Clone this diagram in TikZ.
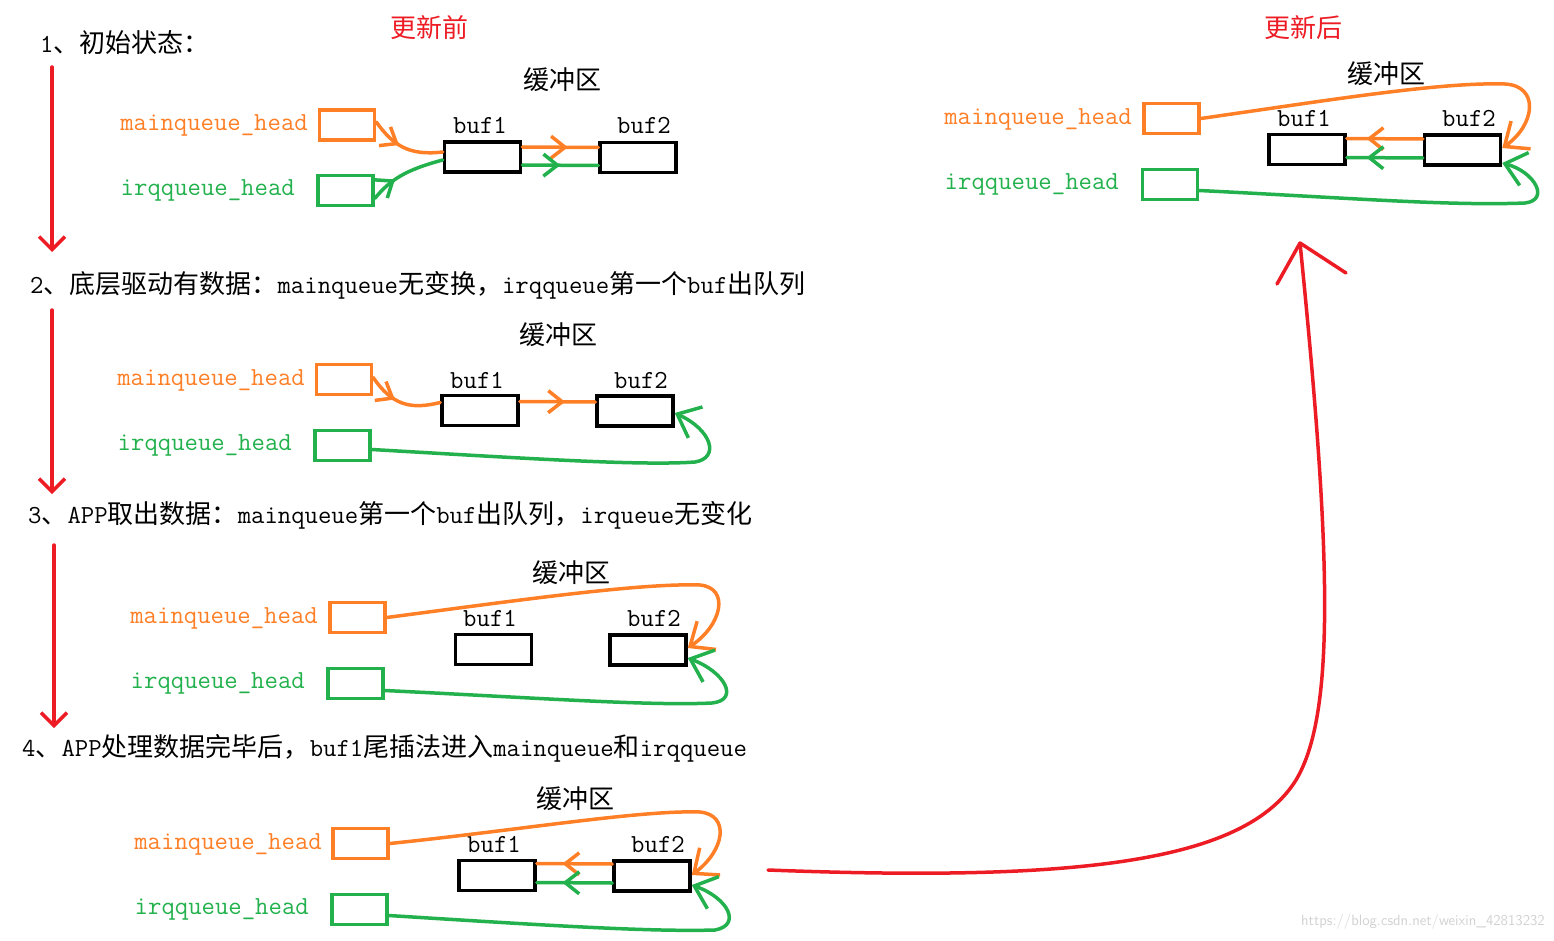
\documentclass[tikz,border=0pt]{standalone}
\usepackage{fontspec}
\newfontfamily\zh{Noto Sans CJK SC}
\usetikzlibrary{arrows.meta,decorations.markings,positioning}
\definecolor{qorange}{HTML}{FF7F27}
\definecolor{qgreen}{HTML}{22B14C}
\definecolor{qred}{HTML}{ED1C24}
\tikzset{
  tipS/.tip={Straight Barb[length=14pt,width=22pt]},
  tipL/.tip={Straight Barb[length=20pt,width=34pt]},
  tipR/.tip={Straight Barb[length=13pt,width=26pt]},
  txt/.style={inner sep=0pt,font=\fontsize{26}{30}\selectfont\ttfamily},
  headbox/.style={draw,line width=3.5pt,minimum width=55pt,minimum height=30pt,inner sep=0pt},
  mbox/.style={headbox,draw=qorange},
  ibox/.style={headbox,draw=qgreen},
  bufbox/.style={draw=black,line width=3.5pt,minimum width=76pt,minimum height=30pt,inner sep=0pt},
  mlabel/.style={txt,anchor=east,text=qorange},
  ilabel/.style={txt,anchor=east,text=qgreen},
  mline/.style={color=qorange,line width=3.5pt,line cap=round},
  iline/.style={color=qgreen,line width=3.5pt,line cap=round},
  redline/.style={color=qred,line width=3.5pt,line cap=round},
  midarrow/.style={postaction={decorate},decoration={markings,mark=at position #1 with {\arrow{tipS}}}}
}

\begin{document}
\begin{tikzpicture}[x=1pt,y=-1pt]
  \useasboundingbox (0,0) rectangle (1554,941);
  %%%%% START %%%%%

  \node[txt,text=qred] (before) at (429,28) {\zh 更新前};
  \node[txt,text=qred] (after) at (1303,28) {\zh 更新后};

  % 1
  \node[txt,anchor=west] (h1) at (40,43) {1{\zh 、初始状态：}};
  \coordinate (r1s) at (52,67);
  \coordinate (r1e) at (52,252);
  \draw[redline,-{tipR}] (r1s) -- (r1e);
  \node[txt] (pool1) at (562,80) {\zh 缓冲区};
  \node[mbox] (mh1) at (347,125) {};
  \node[ibox] (ih1) at (345.5,190.5) {};
  \node[mlabel] (ml1) at (308,125) {mainqueue\_head};
  \node[ilabel] (il1) at (295,190) {irqqueue\_head};
  \node[bufbox] (b11) at (482.5,157) {};
  \node[bufbox] (b12) at (638,157.5) {};
  \node[txt] (bl11) at (480,125) {buf1};
  \node[txt] (bl12) at (644,125) {buf2};
  \draw[mline,midarrow=0.42] ([yshift=3pt]mh1.east) .. controls (393,145) and (408,156) .. ([yshift=5pt]b11.west);
  \draw[iline,midarrow=0.35] ([yshift=-8pt]ih1.east) .. controls (390,180) and (405,170) .. ([yshift=-3pt]b11.west);
  \draw[mline,midarrow=0.6] ([yshift=10pt]b11.east) -- ([yshift=10pt]b12.west);
  \draw[iline,midarrow=0.5] ([yshift=-8pt]b11.east) -- ([yshift=-8pt]b12.west);

  % 2
  \node[txt,anchor=west] (h2) at (30,285) {2{\zh 、底层驱动有数据：}mainqueue{\zh 无变换，}irqqueue{\zh 第一个}buf{\zh 出队列}};
  \coordinate (r2s) at (52,310);
  \coordinate (r2e) at (52,494);
  \draw[redline,-{tipR}] (r2s) -- (r2e);
  \node[txt] (pool2) at (558,335) {\zh 缓冲区};
  \node[mbox] (mh2) at (344,379.5) {};
  \node[ibox] (ih2) at (342.5,445.5) {};
  \node[mlabel] (ml2) at (305,380) {mainqueue\_head};
  \node[ilabel] (il2) at (292,445) {irqqueue\_head};
  \node[bufbox] (b21) at (480,410.5) {};
  \node[bufbox] (b22) at (635,411) {};
  \node[txt] (bl21) at (477,380) {buf1};
  \node[txt] (bl22) at (641,380) {buf2};
  \draw[mline,midarrow=0.4] ([yshift=2pt]mh2.east) .. controls (392,405) and (410,410) .. ([yshift=8pt]b21.west);
  \draw[mline,midarrow=0.6] ([yshift=9pt]b21.east) -- ([yshift=9pt]b22.west);
  \draw[iline,-{tipL}] ([yshift=-4pt]ih2.east) .. controls (520,458) and (640,466) .. (695,462)
    .. controls (720,458) and (712,430) .. ([yshift=-2pt]b22.east);

  % 3
  \node[txt,anchor=west] (h3) at (28,515) {3{\zh 、}APP{\zh 取出数据：}mainqueue{\zh 第一个}buf{\zh 出队列，}irqueue{\zh 无变化}};
  \coordinate (r3s) at (54,545);
  \coordinate (r3e) at (54,728);
  \draw[redline,-{tipR}] (r3s) -- (r3e);
  \node[txt] (pool3) at (571,573) {\zh 缓冲区};
  \node[mbox] (mh3) at (357.5,617.5) {};
  \node[ibox] (ih3) at (355.5,683.5) {};
  \node[mlabel] (ml3) at (318,618) {mainqueue\_head};
  \node[ilabel] (il3) at (305,683) {irqqueue\_head};
  \node[bufbox] (b31) at (493.5,649.5) {};
  \node[bufbox] (b32) at (648,650) {};
  \node[txt] (bl31) at (490,618) {buf1};
  \node[txt] (bl32) at (654,618) {buf2};
  \draw[mline,-{tipL}] (mh3.east) .. controls (520,600) and (640,583) .. (700,585)
    .. controls (730,588) and (722,625) .. ([yshift=2pt]b32.east);
  \draw[iline,-{tipL}] ([yshift=-7pt]ih3.east) .. controls (540,698) and (650,706) .. (712,703)
    .. controls (740,700) and (725,672) .. ([yshift=-8pt]b32.east);

  % 4
  \node[txt,anchor=west] (h4) at (22,748) {4{\zh 、}APP{\zh 处理数据完毕后，}buf1{\zh 尾插法进入}mainqueue{\zh 和}irqqueue};
  \node[txt] (pool4) at (575,799) {\zh 缓冲区};
  \node[mbox] (mh4) at (360.5,843.5) {};
  \node[ibox] (ih4) at (359.5,909.5) {};
  \node[mlabel] (ml4) at (322,844) {mainqueue\_head};
  \node[ilabel] (il4) at (309,909) {irqqueue\_head};
  \node[bufbox] (b41) at (497,875.5) {};
  \node[bufbox] (b42) at (652,876) {};
  \node[txt] (bl41) at (494,844) {buf1};
  \node[txt] (bl42) at (658,844) {buf2};
  \draw[mline,-{tipL}] (mh4.east) .. controls (520,830) and (640,810) .. (700,812)
    .. controls (730,815) and (725,850) .. ([yshift=1pt]b42.east);
  \draw[iline,-{tipL}] ([yshift=-6pt]ih4.east) .. controls (540,925) and (650,932) .. (715,930)
    .. controls (742,925) and (728,898) .. ([yshift=-9pt]b42.east);
  \draw[mline,midarrow=0.66] ([yshift=12pt]b42.west) -- ([yshift=12pt]b41.east);
  \draw[iline,midarrow=0.66] ([yshift=-7pt]b42.west) -- ([yshift=-7pt]b41.east);

  % 4 -> after
  \coordinate (r4s) at (768,870);
  \coordinate (r4e) at (1300,243);
  \draw[redline] (r4s) .. controls (1080,882) and (1245,862) .. (1296,780)
    .. controls (1335,715) and (1332,560) .. (r4e);
  \draw[redline] (r4e) -- ++(-23,41) (r4e) -- ++(46,30);

  % after
  \node[txt] (pool5) at (1386,74) {\zh 缓冲区};
  \node[mbox] (mh5) at (1171.5,118.5) {};
  \node[ibox] (ih5) at (1170,184.5) {};
  \node[mlabel] (ml5) at (1132,119) {mainqueue\_head};
  \node[ilabel] (il5) at (1119,184) {irqqueue\_head};
  \node[bufbox] (b51) at (1307,149.5) {};
  \node[bufbox] (b52) at (1462.5,150) {};
  \node[txt] (bl51) at (1304,118) {buf1};
  \node[txt] (bl52) at (1469,118) {buf2};
  \draw[mline,-{tipL}] (mh5.east) .. controls (1330,100) and (1440,82) .. (1505,84)
    .. controls (1540,86) and (1535,125) .. ([yshift=2pt]b52.east);
  \draw[iline,-{tipL}] ([yshift=-6pt]ih5.east) .. controls (1350,198) and (1450,206) .. (1525,203)
    .. controls (1550,200) and (1535,172) .. ([yshift=-13pt]b52.east);
  \draw[mline,midarrow=0.74] ([yshift=11pt]b52.west) -- ([yshift=11pt]b51.east);
  \draw[iline,midarrow=0.74] ([yshift=-8pt]b52.west) -- ([yshift=-8pt]b51.east);

  \node[inner sep=0pt,anchor=east,text=black!18,font=\fontsize{15}{18}\selectfont\sffamily] (mark) at (1545,922) {https://blog.csdn.net/weixin\_42813232};

  %%%%% END %%%%%
\end{tikzpicture}
\end{document}
